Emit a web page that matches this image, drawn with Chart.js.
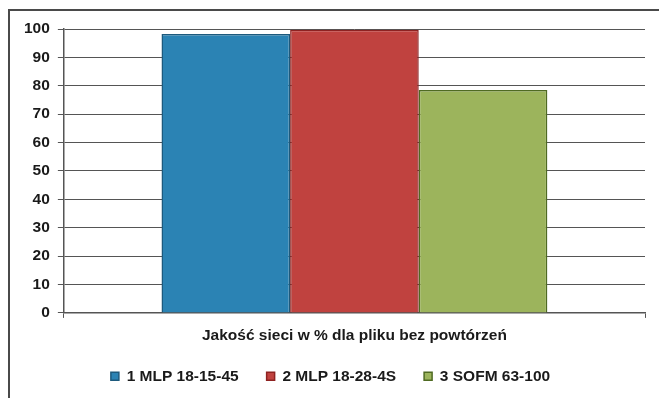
<!DOCTYPE html>
<html>
<head>
<meta charset="utf-8">
<script src="https://cdn.jsdelivr.net/npm/chart.js@4"></script>
<style>
  html, body { margin: 0; padding: 0; background: #fff; }
  #wrap { position: relative; width: 659px; height: 398px; overflow: hidden; }
  #frame { position: absolute; left: 8px; top: 9px; width: 700px; height: 440px;
           border-top: 2px solid #4a4a4a; border-left: 2px solid #4a4a4a; }
  canvas { position: absolute; left: 0; top: 0; }
</style>
</head>
<body>
<div id="wrap">
  <div id="frame"></div>
  <canvas id="chart" width="659" height="398"></canvas>
</div>
<script>
// Network quality per model (%), one category
const categories = ['Jakość sieci w % dla pliku bez powtórzeń'];
const seriesNames = ['1 MLP 18-15-45', '2 MLP 18-28-4S', '3 SOFM 63-100'];
const mlp1 = [98.2];
const mlp2 = [99.7];
const sofm = [78.5];
const yMin = 0, yMax = 100, yStep = 10;

const fills = ['#2b83b4', '#c0423f', '#9cb45c'];
const edges = ['#1d5a7d', '#8e2221', '#4f6a22'];
const values = [mlp1, mlp2, sofm];

const fontFamily = '"Liberation Sans", Arial, sans-serif';
const textFont = { family: fontFamily, size: 15.5, weight: 'bold' };
const axisColor = '#555';

// Legend keeps wide horizontal gaps but takes less vertical room
const LEGEND_SHRINK = 10;
const LEGEND_LIFT = 14;
const compactLegend = {
  id: 'compactLegend',
  beforeInit(chart) {
    const lg = chart.legend;
    if (!lg) return;
    const fit = lg.fit;
    lg.fit = function () { fit.call(this); this.height -= LEGEND_SHRINK; };
  },
  afterUpdate(chart) {
    const lg = chart.legend;
    if (!lg) return;
    lg.top -= LEGEND_LIFT;
    lg.adjustHitBoxes();
  }
};

new Chart(document.getElementById('chart'), {
  type: 'bar',
  data: {
    labels: categories,
    datasets: seriesNames.map((name, i) => ({
      label: name,
      data: values[i],
      backgroundColor: fills[i],
      borderColor: edges[i],
      borderWidth: 1.5,
      barPercentage: 1.0,
      categoryPercentage: 0.664
    }))
  },
  plugins: [compactLegend],
  options: {
    responsive: false,
    animation: false,
    layout: { padding: { left: 16, right: 14, top: 29, bottom: 0 } },
    plugins: {
      tooltip: { enabled: false },
      legend: {
        position: 'bottom',
        labels: {
          boxWidth: 8, boxHeight: 8, padding: 28,
          color: '#1a1a1a',
          font: textFont
        }
      }
    },
    scales: {
      x: {
        grid: { drawOnChartArea: false, drawTicks: true, tickLength: 5, color: axisColor },
        border: { color: axisColor, width: 1.5 },
        ticks: { color: '#1a1a1a', padding: 9, font: textFont }
      },
      y: {
        min: yMin, max: yMax,
        grid: { color: axisColor, lineWidth: 1, tickLength: 6 },
        border: { color: axisColor, width: 1.5 },
        ticks: { stepSize: yStep, color: '#1a1a1a', padding: 8, font: textFont }
      }
    }
  }
});
</script>
</body>
</html>
